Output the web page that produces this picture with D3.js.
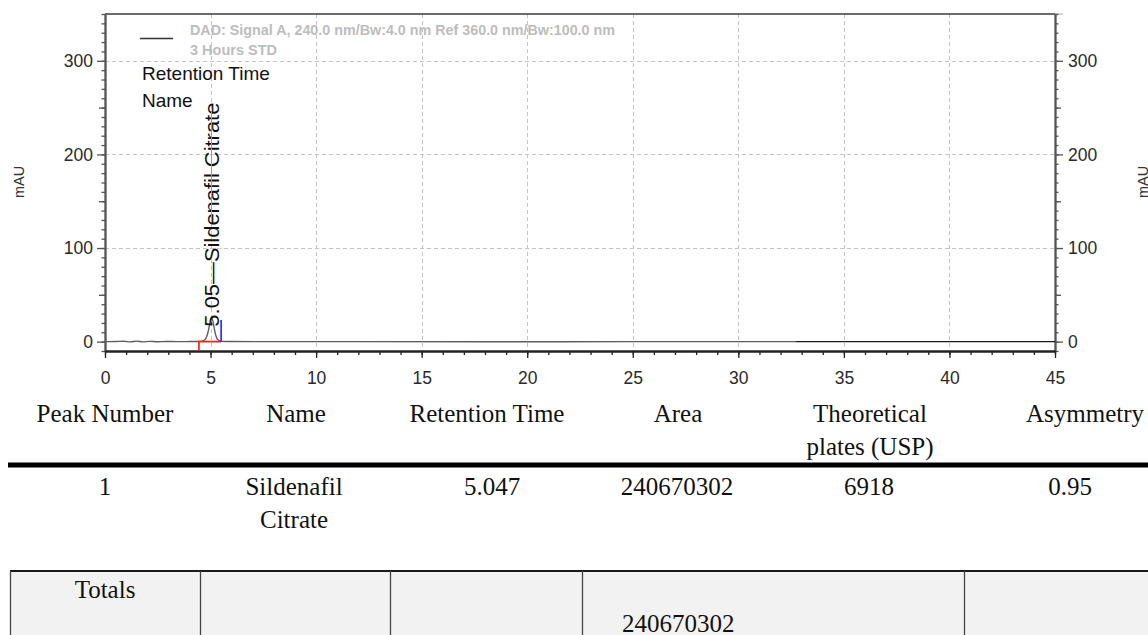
<!DOCTYPE html>
<html><head><meta charset="utf-8">
<script src="https://cdn.jsdelivr.net/npm/d3@7"></script>
<style>
html,body{margin:0;padding:0;background:#fff;}
svg{display:block;}
</style></head>
<body><svg id="chart" width="1148" height="635"></svg>
<script>
// ---- chromatogram data -------------------------------------------------
// detector trace (retention time in min, response in mAU)
const traceTime = [0, 0.5, 0.9, 1.2, 1.5, 1.8, 2.1, 2.5, 2.9, 3.4, 4.0, 4.45, 4.6, 4.7, 4.8, 4.88, 4.95, 5.0, 5.05, 5.1, 5.16, 5.22, 5.3, 5.4, 5.5, 6.0, 8.0, 12.0, 18.0, 25.0, 32.7];
const traceMAU  = [0, 0.1, 0.4, -0.3, 0.5, -0.2, 0.3, -0.1, 0.2, 0.0, 0.1, 0.2, 0.6, 1.5, 4.5, 10.0, 18.0, 23.5, 25.0, 23.0, 16.0, 9.0, 3.5, 1.2, 0.3, 0.1, 0.0, 0.0, -0.1, 0.0, 0.0];
// end-of-run segment of the trace
const tailTime = [32.7, 45];
const tailMAU  = [0, 0];

// integration marks for the peak
const peakRetention = 5.05;
const peakName = "Sildenafil Citrate";
const integrationStart = 4.45;
const integrationEnd = 5.5;
const integrationEndMAU = 23;

// axis ticks
const xTicks = [0, 5, 10, 15, 20, 25, 30, 35, 40, 45];
const yTicks = [0, 100, 200, 300];

// legend text
const signalLabel = "DAD: Signal A, 240.0 nm/Bw:4.0 nm Ref 360.0 nm/Bw:100.0 nm";
const sampleLabel = "3 Hours STD";
const annotationFields = ["Retention Time", "Name"];

// ---- peak table data ---------------------------------------------------
const tableHeaders = ["Peak Number", "Name", "Retention Time", "Area", "Theoretical plates (USP)", "Asymmetry"];
const peakNumbers = [1];
const peakNames = ["Sildenafil Citrate"];
const retentionTimes = ["5.047"];
const peakAreas = [240670302];
const theoreticalPlates = [6918];
const asymmetries = ["0.95"];
const totalsLabel = "Totals";

// ---- scales ------------------------------------------------------------
const svg = d3.select("#chart");
const x = d3.scaleLinear().domain([0, 45]).range([105, 1055]);
const y = d3.scaleLinear().domain([-10, 350]).range([351, 14]);
const sans = "Arial, 'Liberation Sans', Helvetica, sans-serif";
const serif = "'Times New Roman', 'Liberation Serif', serif";

// ---- grid --------------------------------------------------------------
const grid = svg.append("g").attr("stroke", "#c4c4c4").attr("stroke-dasharray", "4,3").attr("stroke-width", 1);
grid.selectAll("line.v").data(xTicks.filter(t => t > 0 && t < 45)).join("line")
  .attr("x1", d => Math.round(x(d)) + 0.5).attr("x2", d => Math.round(x(d)) + 0.5)
  .attr("y1", y(350)).attr("y2", y(-10));
grid.selectAll("line.h").data(yTicks.filter(t => t > 0)).join("line")
  .attr("x1", x(0)).attr("x2", x(45))
  .attr("y1", d => Math.round(y(d)) + 0.5).attr("y2", d => Math.round(y(d)) + 0.5);

// ---- frame -------------------------------------------------------------
svg.append("line").attr("x1", x(45)).attr("x2", x(45) + 8).attr("y1", y(350)).attr("y2", y(350))
  .attr("stroke", "#c8c8c8").attr("stroke-width", 1.5);
svg.append("line").attr("x1", x(0)).attr("x2", x(45)).attr("y1", y(350)).attr("y2", y(350))
  .attr("stroke", "#3a3a3a").attr("stroke-width", 1.6);

// ---- axes --------------------------------------------------------------
function styleAxis(g, color) {
  g.selectAll("path.domain").attr("stroke", color).attr("stroke-width", 1.6);
  g.selectAll(".tick line").attr("stroke", color).attr("stroke-width", 1.3);
  g.selectAll("text").attr("font-family", sans).attr("font-size", 17.5).attr("fill", "#2a2a2a");
}
// y axes: major, half and minor ticks on both sides
[["left", 105, d3.axisLeft, 4], ["right", 1055, d3.axisRight, 5]].forEach(([side, xp, axisFn, pad]) => {
  svg.append("g").attr("transform", `translate(${xp},0)`)
    .call(axisFn(y).tickValues(d3.range(-10, 351, 10)).tickSize(3.5).tickSizeOuter(0).tickFormat(""))
    .call(g => styleAxis(g, "#555"));
  svg.append("g").attr("transform", `translate(${xp},0)`)
    .call(axisFn(y).tickValues([50, 150, 250]).tickSize(6).tickSizeOuter(0).tickFormat(""))
    .call(g => styleAxis(g, "#555"));
  svg.append("g").attr("transform", `translate(${xp},0)`)
    .call(axisFn(y).tickValues(yTicks).tickSize(8).tickPadding(pad).tickSizeOuter(0))
    .call(g => styleAxis(g, "#555"));
});
// x axis
svg.append("g").attr("transform", `translate(0,${y(-10)})`)
  .call(d3.axisBottom(x).tickValues(d3.range(0, 46, 1)).tickSize(4).tickSizeOuter(0).tickFormat(""))
  .call(g => styleAxis(g, "#222"))
  .call(g => g.select("path.domain").attr("stroke-width", 2));
svg.append("g").attr("transform", `translate(0,${y(-10)})`)
  .call(d3.axisBottom(x).tickValues(xTicks).tickSize(7).tickPadding(14).tickSizeOuter(0))
  .call(g => styleAxis(g, "#222"))
  .call(g => g.select("path.domain").attr("stroke-width", 2));

// axis titles
svg.append("text").attr("transform", `translate(24,${182}) rotate(-90)`)
  .attr("text-anchor", "middle").attr("font-family", sans).attr("font-size", 14.5).attr("fill", "#333").text("mAU");
svg.append("text").attr("transform", `translate(1148,${182}) rotate(-90)`)
  .attr("text-anchor", "middle").attr("font-family", sans).attr("font-size", 14.5).attr("fill", "#333").text("mAU");

// ---- trace -------------------------------------------------------------
const line = d3.line().x(d => x(d[0])).y(d => y(d[1])).curve(d3.curveMonotoneX);
svg.append("path").datum(d3.zip(traceTime, traceMAU)).attr("d", line)
  .attr("fill", "none").attr("stroke", "#5e5e5e").attr("stroke-width", 1.4);
svg.append("path").datum(d3.zip(tailTime, tailMAU)).attr("d", line)
  .attr("fill", "none").attr("stroke", "#1a1a1a").attr("stroke-width", 1.4);

// integration baseline (red) and peak end marker (blue)
svg.append("path")
  .attr("d", d3.line()([[x(integrationStart), y(-10)], [x(integrationStart), y(0)], [x(integrationEnd), y(0)]]))
  .attr("fill", "none").attr("stroke", "#ff2020").attr("stroke-width", 1.7);
svg.append("line").attr("x1", x(integrationEnd)).attr("x2", x(integrationEnd))
  .attr("y1", y(0)).attr("y2", y(integrationEndMAU)).attr("stroke", "#2020ff").attr("stroke-width", 1.6);

// peak annotation
svg.append("text")
  .attr("transform", `translate(${x(peakRetention) + 7.5},${y(0) - 15}) rotate(-90)`)
  .attr("font-family", sans).attr("font-size", 19.5).attr("fill", "#111")
  .attr("textLength", 224).attr("lengthAdjust", "spacingAndGlyphs")
  .text(`${peakRetention.toFixed(2)}\u2014${peakName}`);
// grid line at 5 min runs over the label
svg.append("line").attr("x1", Math.round(x(5)) + 0.5).attr("x2", Math.round(x(5)) + 0.5)
  .attr("y1", y(0) - 120).attr("y2", y(0) - 230).attr("stroke", "#9a9a9a").attr("stroke-width", 1);

// ---- legend ------------------------------------------------------------
svg.append("line").attr("x1", 140).attr("x2", 173).attr("y1", 38.5).attr("y2", 38.5)
  .attr("stroke", "#333").attr("stroke-width", 1.5);
svg.append("text").attr("x", 190).attr("y", 35)
  .attr("font-family", "'Liberation Sans Narrow', 'Arial Narrow', Arial, sans-serif").attr("font-weight", "bold")
  .attr("font-size", 15.5).attr("fill", "#bdbdbd")
  .attr("textLength", 425).attr("lengthAdjust", "spacingAndGlyphs").text(signalLabel);
svg.append("text").attr("x", 190).attr("y", 54.5)
  .attr("font-family", "'Liberation Sans Narrow', 'Arial Narrow', Arial, sans-serif").attr("font-weight", "bold")
  .attr("font-size", 15.5).attr("fill", "#bdbdbd")
  .attr("textLength", 87).attr("lengthAdjust", "spacingAndGlyphs").text(sampleLabel);
svg.selectAll("text.field").data(annotationFields).join("text")
  .attr("x", 142).attr("y", (d, i) => 80 + i * 27)
  .attr("font-family", sans).attr("font-size", 19).attr("fill", "#111").text(d => d);

// ---- peak table --------------------------------------------------------
const colCenters = [105, 296, 487, 678, 870, 1085];
const rowCenters = [105, 294, 492, 677, 869, 1070];

function wrapLines(sel, text, maxWidth) {
  const words = text.split(" ");
  const lines = [];
  let cur = "";
  words.forEach(w => {
    const trial = cur ? cur + " " + w : w;
    sel.text(trial);
    if (cur && sel.node().getComputedTextLength() > maxWidth) { lines.push(cur); cur = w; }
    else cur = trial;
  });
  lines.push(cur);
  sel.text(null);
  return lines;
}
function cellText(cx, baseline, text, lineH) {
  const t = svg.append("text").attr("font-family", serif).attr("font-size", 25).attr("fill", "#111")
    .attr("text-anchor", "middle");
  const lines = wrapLines(t, String(text), 160);
  t.selectAll("tspan").data(lines).join("tspan")
    .attr("x", cx).attr("y", (d, i) => baseline + i * lineH).text(d => d);
}
tableHeaders.forEach((h, i) => cellText(colCenters[i], 422, h, 33));
svg.append("line").attr("x1", 8).attr("x2", 1148).attr("y1", 465).attr("y2", 465)
  .attr("stroke", "#000").attr("stroke-width", 5);
peakNumbers.forEach((n, r) => {
  const row = [n, peakNames[r], retentionTimes[r], peakAreas[r], theoreticalPlates[r], asymmetries[r]];
  row.forEach((v, i) => cellText(rowCenters[i], 495, v, 33));
});

// totals row
const totalsTop = 571;
svg.append("rect").attr("x", 10).attr("y", totalsTop).attr("width", 1140).attr("height", 70).attr("fill", "#f2f2f2");
svg.append("line").attr("x1", 10).attr("x2", 1148).attr("y1", totalsTop).attr("y2", totalsTop)
  .attr("stroke", "#1a1a1a").attr("stroke-width", 2);
[10.5, 200.5, 390.5, 582.5, 964.5].forEach(xv =>
  svg.append("line").attr("x1", xv).attr("x2", xv).attr("y1", totalsTop).attr("y2", 635)
    .attr("stroke", "#444").attr("stroke-width", 1.3));
svg.append("text").attr("x", 105).attr("y", 598).attr("text-anchor", "middle")
  .attr("font-family", serif).attr("font-size", 25).attr("fill", "#111").text(totalsLabel);
svg.append("text").attr("x", 622).attr("y", 632)
  .attr("font-family", serif).attr("font-size", 25).attr("fill", "#111").text(d3.sum(peakAreas));
</script>
</body></html>
